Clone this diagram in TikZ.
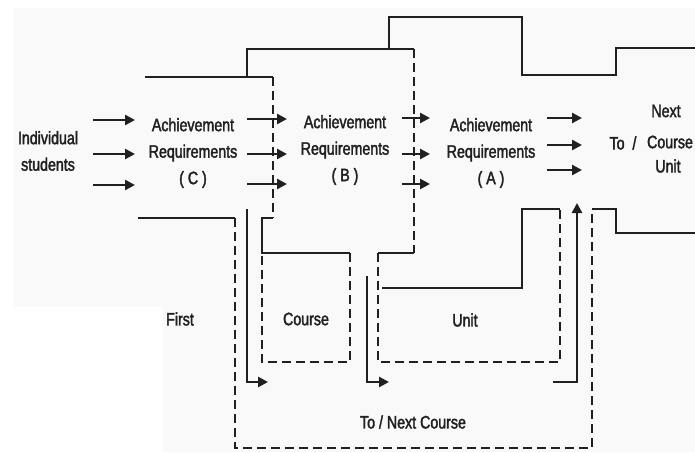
\documentclass[tikz,border=0pt]{standalone}
\usepackage{fontspec}
\setmainfont{Liberation Sans}[FakeStretch=0.79,FakeBold=2]
\usetikzlibrary{arrows.meta}
\definecolor{bgc}{HTML}{F9F9F9}
\definecolor{ink}{HTML}{202020}
\begin{document}
\begin{tikzpicture}[x=1pt,y=-1pt,
  solidl/.style={draw=ink,line width=2.5pt,line join=miter},
  dsh/.style={draw=ink,line width=2.5pt,dash pattern=on 9pt off 5pt},
  arr/.style={draw=ink,line width=2.5pt,-{Triangle[length=10pt,width=10pt]}},
  lbl/.style={text=ink,font=\fontsize{18}{26.5}\selectfont,align=center,inner sep=0pt}]
\useasboundingbox (0,0) rectangle (695,452);
\fill[white] (0,0) rectangle (695,452);
\fill[bgc] (13,8) -- (695,8) -- (695,452) -- (163,452) -- (163,307) -- (13,307) -- cycle;

% coordinates
\coordinate (c1) at (145,77);  \coordinate (c2) at (273,77);
\coordinate (c3) at (273,218); \coordinate (c4) at (262,218);
\coordinate (c5) at (262,253); \coordinate (c6) at (350,253);
\coordinate (c7) at (350,362); \coordinate (c8) at (262,362);

\coordinate (b1) at (247,77);  \coordinate (b2) at (247,49);
\coordinate (b3) at (414,49);  \coordinate (b4) at (414,253);
\coordinate (b5) at (378,253); \coordinate (b6) at (378,362);
\coordinate (b7) at (560,362); \coordinate (b8) at (560,209);
\coordinate (b9) at (522,209); \coordinate (b10) at (522,288);
\coordinate (b11) at (382,288);

\coordinate (a1) at (389,49);  \coordinate (a2) at (389,17);
\coordinate (a3) at (522,17);  \coordinate (a4) at (522,75);
\coordinate (a5) at (616,75);  \coordinate (a6) at (616,48);
\coordinate (a7) at (695,48);

\coordinate (o1) at (138,218); \coordinate (o2) at (235,218);
\coordinate (o3) at (235,448); \coordinate (o4) at (592,448);
\coordinate (o5) at (592,209); \coordinate (o6) at (616,209);
\coordinate (o7) at (616,233); \coordinate (o8) at (695,233);

% level C
\draw[solidl] (c1) -- (c2);
\draw[dsh] (c2) -- (c3);
\draw[solidl] (c3) -- (c4) -- (c5) -- (c6);
\draw[dsh] (c6) -- (c7) -- (c8) -- (c5);
% level B
\draw[solidl] (b1) -- (b2) -- (b3);
\draw[dsh] (b3) -- (b4);
\draw[solidl] (b4) -- (b5);
\draw[dsh] (b5) -- (b6) -- (b7) -- (b8);
\draw[solidl] (b8) -- (b9) -- (b10) -- (b11);
% level A
\draw[solidl] (a1) -- (a2) -- (a3) -- (a4) -- (a5) -- (a6) -- (a7);
% outer
\draw[solidl] (o1) -- (o2);
\draw[dsh] (o2) -- (o3) -- (o4) -- (o5);
\draw[solidl] (o5) -- (o6) -- (o7) -- (o8);

% return arrows
\coordinate (r1s) at (247,209); \coordinate (r1m) at (247,382); \coordinate (r1e) at (268,382);
\coordinate (r2s) at (367,276); \coordinate (r2m) at (367,382); \coordinate (r2e) at (389,382);
\coordinate (r3s) at (553,382); \coordinate (r3m) at (577,382); \coordinate (r3e) at (577,203);
\draw[arr] (r1s) -- (r1m) -- (r1e);
\draw[arr] (r2s) -- (r2m) -- (r2e);
\draw[arr] (r3s) -- (r3m) -- (r3e);

% horizontal arrows
\foreach \i/\y in {1/120,2/154,3/185}{
  \coordinate (h1s\i) at (93,\y); \coordinate (h1e\i) at (135,\y);
  \draw[arr] (h1s\i) -- (h1e\i);}
\foreach \i/\y in {1/119,2/154,3/184}{
  \coordinate (h2s\i) at (247,\y); \coordinate (h2e\i) at (287,\y);
  \draw[arr] (h2s\i) -- (h2e\i);}
\foreach \i/\y in {1/118,2/154,3/184}{
  \coordinate (h3s\i) at (402,\y); \coordinate (h3e\i) at (430,\y);
  \draw[arr] (h3s\i) -- (h3e\i);}
\foreach \i/\y in {1/118,2/145,3/170}{
  \coordinate (h4s\i) at (547,\y); \coordinate (h4e\i) at (582,\y);
  \draw[arr] (h4s\i) -- (h4e\i);}

% labels
\node[lbl] (ind) at (48,151) {Individual\\students};
\node[lbl] (reqC) at (193,153) {Achievement\\Requirements\\( C )};
\node[lbl] (reqB) at (345,150) {Achievement\\Requirements\\( B )};
\node[lbl] (reqA) at (491,153) {Achievement\\Requirements\\( A )};
\node[lbl] (next) at (666,111) {Next};
\node[lbl] (course) at (670,142) {Course};
\node[lbl] (unitR) at (668,166) {Unit};
\node[lbl] (to) at (623,143) {To\ \ /};
\node[lbl] (first) at (180,319) {First};
\node[lbl] (courseB) at (306,319) {Course};
\node[lbl] (unitB) at (465,320) {Unit};
\node[lbl] (toNext) at (413,422) {To / Next Course};
\end{tikzpicture}
\end{document}
